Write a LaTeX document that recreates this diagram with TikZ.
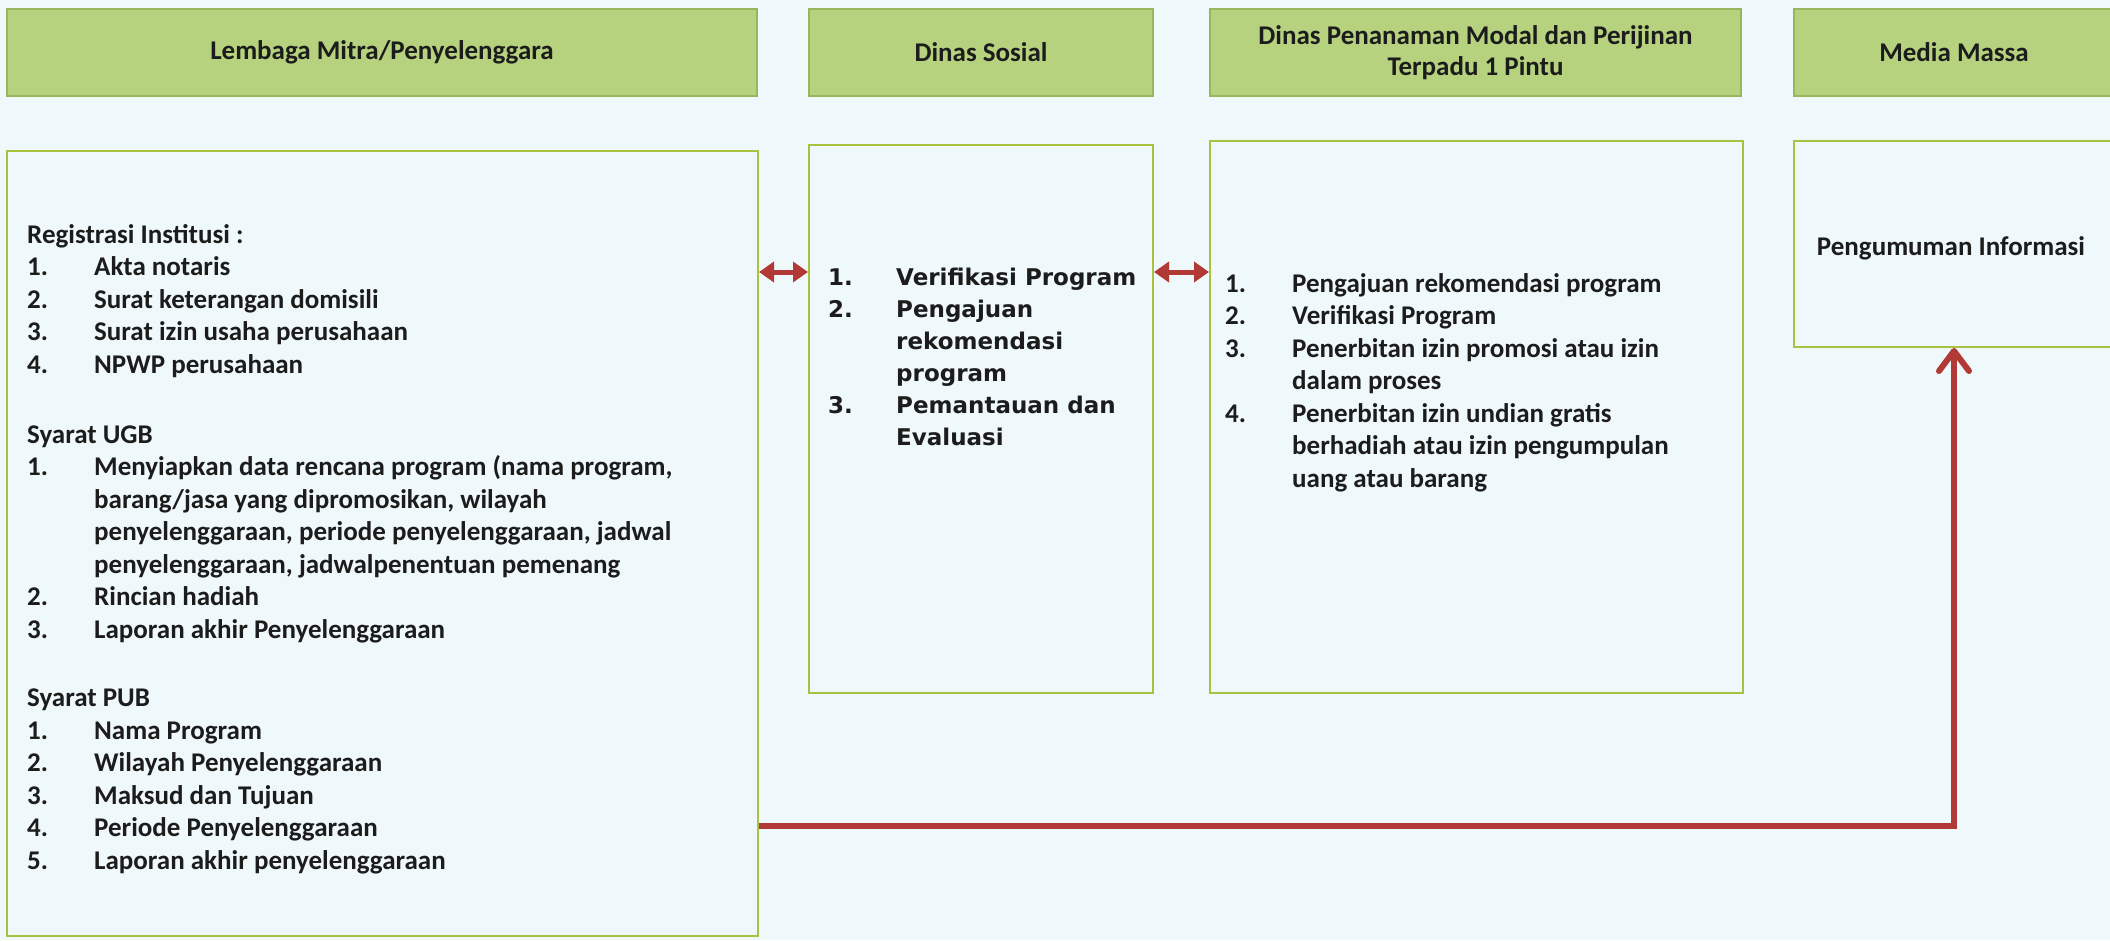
\documentclass[tikz,border=0pt]{standalone}
\usepackage{fontspec}
\usepackage{array}
\setmainfont{Carlito}
\newfontfamily\verdfont{DejaVu Sans}
\usetikzlibrary{arrows.meta}
\definecolor{bgc}{HTML}{EFF8FA}
\definecolor{hdrfill}{HTML}{B6D27F}
\definecolor{hdrline}{HTML}{9AB65C}
\definecolor{boxline}{HTML}{A9C23F}
\definecolor{txt}{HTML}{1C1C1C}
\definecolor{redc}{HTML}{B23A36}
\newcommand\mybody{\fontsize{27}{32.5}\selectfont\bfseries}
\newcommand\mysos{\verdfont\fontsize{23}{32}\selectfont\bfseries}
\newcommand\myhdr{\fontsize{27}{31}\selectfont\bfseries}
\begin{document}
\begin{tikzpicture}[x=1pt,y=-1pt,
  hdr/.style={draw=hdrline, fill=hdrfill, line width=1.5pt, text=txt, font=\myhdr, align=center, inner sep=0pt},
  boxnode/.style={draw=boxline, line width=2pt, inner sep=0pt},
  txtnode/.style={inner sep=0pt, text=txt, anchor=base west},
  dbl/.style={draw=redc, line width=5pt, {Triangle[length=15pt,width=20pt]}-{Triangle[length=15pt,width=20pt]}},
  redarr/.style={draw=redc, line width=6pt, -{Straight Barb[length=20pt,width=30pt,round]}}]
\useasboundingbox (0,0) rectangle (2110,940);
\fill[bgc] (0,0) rectangle (2110,940);

% headers
\node[hdr, minimum width=750pt, minimum height=87pt] (h1) at (382,52.5) {Lembaga Mitra/Penyelenggara};
\node[hdr, minimum width=344pt, minimum height=87pt] (h2) at (981,52.5) {Dinas Sosial};
\node[hdr, minimum width=531pt, minimum height=87pt] (h3) at (1475.5,52.5) {Dinas Penanaman Modal dan Perijinan\\Terpadu 1 Pintu};
\node[hdr, minimum width=320pt, minimum height=87pt] (h4) at (1954,52.5) {Media Massa};

% boxes
\node[boxnode, minimum width=751pt, minimum height=785pt] (lem) at (382.5,543.5) {};
\node[boxnode, minimum width=344pt, minimum height=548pt] (sos) at (981,419) {};
\node[boxnode, minimum width=533pt, minimum height=552pt] (pen) at (1476.5,417) {};
\node[boxnode, minimum width=320pt, minimum height=206pt] (med) at (1954,244) {};

% texts
\node[txtnode] (lemtxt) at (27,243) {\mybody
\begin{tabular}[t]{@{}p{67pt}@{}>{\raggedright\arraybackslash}p{650pt}@{}}
\multicolumn{2}{@{}l@{}}{Registrasi Institusi :}\\
1. & Akta notaris\\
2. & Surat keterangan domisili\\
3. & Surat izin usaha perusahaan\\
4. & NPWP perusahaan\\[37.5pt]
\multicolumn{2}{@{}l@{}}{Syarat UGB}\\
1. & Menyiapkan data rencana program (nama program,\newline barang/jasa yang dipromosikan, wilayah\newline penyelenggaraan, periode penyelenggaraan, jadwal\newline penyelenggaraan, jadwalpenentuan pemenang\\
2. & Rincian hadiah\\
3. & Laporan akhir Penyelenggaraan\\[36pt]
\multicolumn{2}{@{}l@{}}{Syarat PUB}\\
1. & Nama Program\\
2. & Wilayah Penyelenggaraan\\
3. & Maksud dan Tujuan\\
4. & Periode Penyelenggaraan\\
5. & Laporan akhir penyelenggaraan
\end{tabular}};

\node[txtnode] (sostxt) at (828,285) {\mysos
\begin{tabular}[t]{@{}p{68pt}@{}>{\raggedright\arraybackslash}p{250pt}@{}}
1. & Verifikasi Program\\
2. & Pengajuan\newline rekomendasi\newline program\\
3. & Pemantauan dan\newline Evaluasi
\end{tabular}};

\node[txtnode] (pentxt) at (1225,292) {\mybody
\begin{tabular}[t]{@{}p{67pt}@{}>{\raggedright\arraybackslash}p{440pt}@{}}
1. & Pengajuan rekomendasi program\\
2. & Verifikasi Program\\
3. & Penerbitan izin promosi atau izin\newline dalam proses\\
4. & Penerbitan izin undian gratis\newline berhadiah atau izin pengumpulan\newline uang atau barang
\end{tabular}};

\node[inner sep=0pt, text=txt, font=\mybody, anchor=base] (medtxt) at (1951,255) {Pengumuman Informasi};

% connectors
\coordinate (arow) at (0,272);
\coordinate (rrow) at (0,826);
\draw[dbl] (lem.east |- arow) -- (sos.west |- arow);
\draw[dbl] (sos.east |- arow) -- (pen.west |- arow);
\draw[redarr] (lem.east |- rrow) -| (med.south);
\end{tikzpicture}
\end{document}
